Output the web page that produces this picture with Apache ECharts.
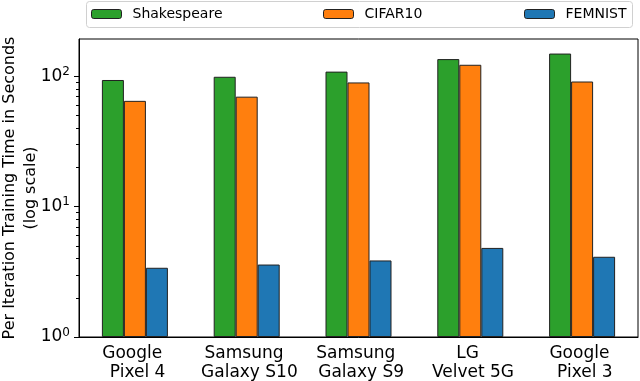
<!DOCTYPE html>
<html>
<head>
<meta charset="utf-8">
<script src="https://cdn.jsdelivr.net/npm/echarts@6/dist/echarts.min.js"></script>
<style>
  html, body { margin: 0; padding: 0; background: #fff; }
  #chart { width: 640px; height: 381px; }
</style>
</head>
<body>
<div id="chart"></div>
<script>
// --- data ---
const devices     = ['Google \n Pixel 4', 'Samsung \n Galaxy S10', 'Samsung \n Galaxy S9', 'LG \n Velvet 5G', 'Google \n Pixel 3']
const shakespeare = [94, 99.5, 109, 136, 150]
const cifar10     = [65, 70, 90, 123, 91.5]
const femnist     = [3.4, 3.6, 3.87, 4.83, 4.13]
const minorTicks  = [2, 3, 4, 5, 6, 7, 8, 9, 20, 30, 40, 50, 60, 70, 80, 90]
const Y_MIN = 1
const Y_MAX = 194

const FONT = 'DejaVu Sans'
const supMap = { 0: '0', 1: '1', 2: '2' }

const chart = echarts.init(document.getElementById('chart'))

const bar = (name, data, color) => ({
  name, type: 'bar', data,
  yAxisIndex: 0,
  barWidth: 22,
  barGap: '0%',
  itemStyle: { color, borderColor: '#222', borderWidth: 1 }
})

chart.setOption({
  animation: false,
  textStyle: { fontFamily: FONT },
  grid: {
    left: 79, right: 2, top: 39, bottom: 44,
    outerBoundsMode: 'none', containLabel: false,
    show: true, borderColor: '#000', borderWidth: 1
  },
  // legend padding is 5 by default, so lefts are 5 px before the patch
  legend: [
    { data: ['Shakespeare'], left: 86, top: 2 },
    { data: ['CIFAR10'], left: 318, top: 2 },
    { data: ['FEMNIST'], left: 519, top: 2 }
  ].map(l => Object.assign(l, {
    itemWidth: 30, itemHeight: 9, itemGap: 10,
    textStyle: { fontSize: 14, color: '#000', fontFamily: FONT, padding: [0, 0, 0, 6] },
    itemStyle: { borderColor: '#222', borderWidth: 1 }
  })),
  graphic: [{
    type: 'rect',
    shape: { x: 86.5, y: 1.5, width: 546, height: 26, r: 3 },
    style: { fill: 'none', stroke: '#d0d0d0', lineWidth: 1 },
    silent: true
  }],
  xAxis: {
    type: 'category',
    data: devices,
    axisLine: { lineStyle: { color: '#000' } },
    axisTick: { alignWithLabel: true, length: 4, lineStyle: { color: '#000' } },
    axisLabel: { color: '#000', fontSize: 17, lineHeight: 19, margin: 7, interval: 0 }
  },
  yAxis: [{
    type: 'log',
    logBase: 10,
    min: Y_MIN,
    max: Y_MAX,
    name: 'Per Iteration Training Time in Seconds\n(log scale)',
    nameLocation: 'middle',
    nameGap: 38,
    nameMoveOverlap: false,
    nameTextStyle: { fontSize: 16, color: '#000', lineHeight: 21, fontFamily: FONT },
    axisLine: { show: true, lineStyle: { color: '#000' } },
    axisTick: { show: true, length: 5, lineStyle: { color: '#000' } },
    splitLine: { show: false },
    axisLabel: {
      color: '#000',
      margin: 9,
      showMaxLabel: false,
      formatter: v => '{b|10}{s|' + supMap[Math.round(Math.log10(v))] + '}',
      rich: {
        b: { fontSize: 17, color: '#000', fontFamily: FONT },
        s: { fontSize: 12, color: '#000', fontFamily: FONT, padding: [0, 0, 9, 0] }
      }
    }
  }, {
    // minor ticks: value axis over log10 of the range
    type: 'value',
    min: Math.log10(Y_MIN),
    max: Math.log10(Y_MAX),
    position: 'left',
    offset: 0,
    axisLine: { show: false },
    axisTick: { show: true, length: 3, lineStyle: { color: '#000' }, customValues: minorTicks.map(Math.log10) },
    axisLabel: { show: false },
    splitLine: { show: false }
  }],
  series: [
    bar('Shakespeare', shakespeare, '#2ca02c'),
    bar('CIFAR10', cifar10, '#ff7f0e'),
    bar('FEMNIST', femnist, '#1f77b4')
  ]
})
</script>
</body>
</html>
